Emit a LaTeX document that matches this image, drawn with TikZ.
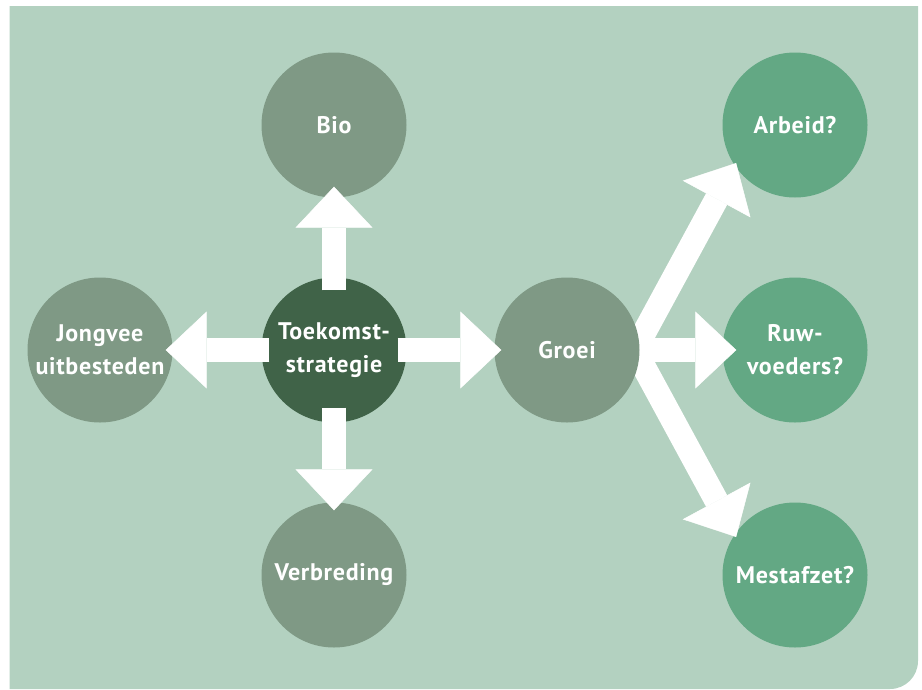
\documentclass[tikz,border=0pt]{standalone}
\usepackage{fontspec}
\setmainfont{PT Sans}[LetterSpace=3]
\usetikzlibrary{arrows.meta}

\definecolor{paleleaf}{RGB}{179,209,192}
\definecolor{grayleaf}{RGB}{127,153,133}
\definecolor{darkleaf}{RGB}{64,99,72}
\definecolor{brightleaf}{RGB}{99,168,132}

\pgfdeclarelayer{back}
\pgfsetlayers{back,main}

\begin{document}
\begin{tikzpicture}[x=1pt,y=-1pt,
	bubble/.style={circle, minimum size=145pt, inner sep=0pt, text=white, align=center,
		font=\bfseries\fontsize{24}{33}\selectfont},
	bigarrow/.style={draw=white, line width=24pt,
		-{Triangle[length=41pt, width=77pt, line width=0.5pt]},
		shorten <=-11pt, shorten >=-8pt}]

\def\width{922}
\def\height{689}
\def\ox{334}
\def\oy{350}

\path [use as bounding box] (0,0) rectangle (\width,\height);

% BACKGROUND AND RIGHT BUBBLES
\begin{pgfonlayer}{back}
\fill [paleleaf] (9.5,6) -- (918,6) [rounded corners=28pt] -- (918,\height) [sharp corners] -- (9.5,\height) -- cycle;
\node [bubble, fill=brightleaf] (arbeid) at (795,125) {Arbeid?};
\node [bubble, fill=brightleaf] (ruw) at (795,\oy) {Ruw-\\voeders?};
\node [bubble, fill=brightleaf] (mest) at (795,575) {Mestafzet?};
\end{pgfonlayer}

% BUBBLES
\node [bubble, fill=darkleaf] (toek) at (\ox,\oy) {Toekomst-\\strategie};
\node [bubble, fill=grayleaf] (bio) at (\ox,125) {Bio};
\node [bubble, fill=grayleaf] (verbr) at (\ox,575) {Verbreding};
\node [bubble, fill=grayleaf] (jong) at (100,\oy) {Jongvee\\uitbesteden};
\node [bubble, fill=grayleaf] (groei) at (567,\oy) {Groei};

% ARROWS
\draw [bigarrow, shorten <=-13pt, shorten >=-11pt] (toek) -- (bio);
\draw [bigarrow, shorten <=-15pt, shorten >=-8pt] (toek) -- (verbr);
\draw [bigarrow, shorten <=-8pt, shorten >=-7pt] (toek) -- (jong);
\draw [bigarrow, shorten <=-9pt, shorten >=-7pt] (toek) -- (groei);

% FORK
\coordinate (fork) at ([xshift=-5pt]groei.east);
\begin{pgfonlayer}{back}
\draw [bigarrow, shorten <=0pt, shorten >=-3pt] (fork) -- (arbeid.214);
\draw [bigarrow, shorten <=0pt, shorten >=-14pt] (fork) -- (ruw);
\draw [bigarrow, shorten <=0pt, shorten >=-3pt] (fork) -- (mest.146);
\end{pgfonlayer}

\end{tikzpicture}
\end{document}
